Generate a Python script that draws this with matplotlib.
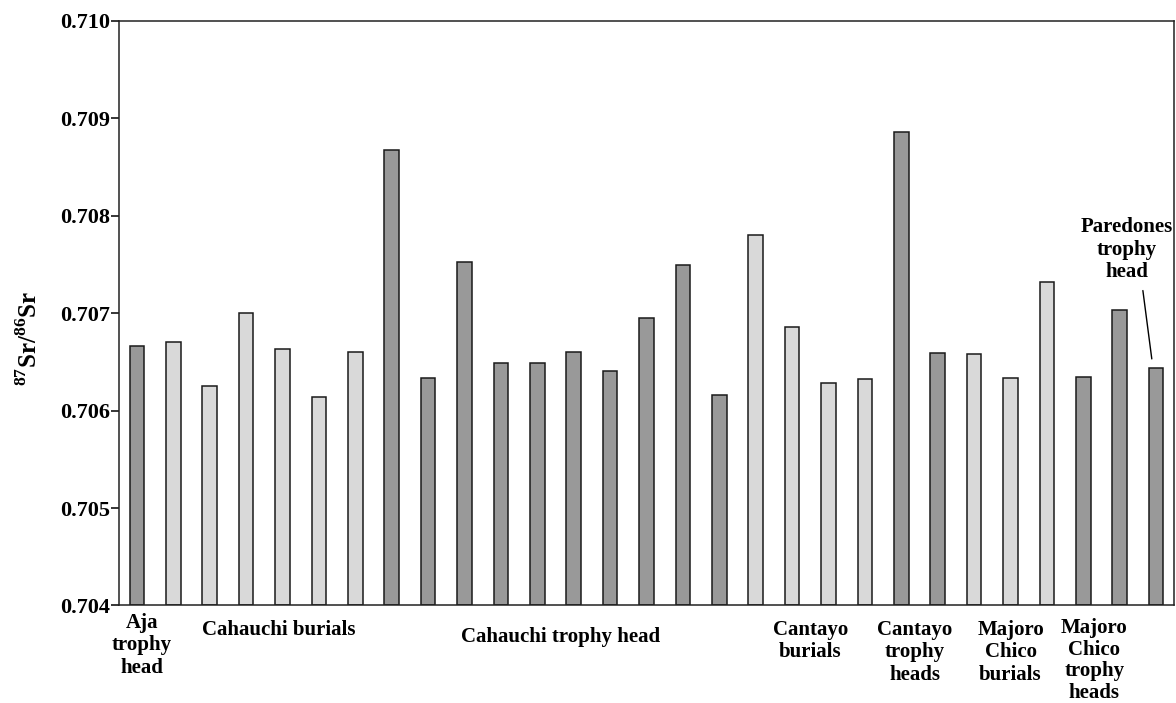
import matplotlib
matplotlib.use("Agg")
import matplotlib.pyplot as plt
from matplotlib.ticker import FormatStrFormatter

plt.rcParams['font.family'] = ['Liberation Serif', 'DejaVu Serif']
plt.rcParams['font.weight'] = 'bold'
plt.rcParams['mathtext.fontset'] = 'custom'
plt.rcParams['mathtext.rm'] = 'Liberation Serif:bold'
plt.rcParams['mathtext.bf'] = 'Liberation Serif:bold'

# 87Sr/86Sr ratio of each sample, left to right
sr_ratio = [0.70666, 0.70670, 0.70625, 0.70700, 0.70663, 0.70614, 0.70660,
            0.70867, 0.70633, 0.70752, 0.70649, 0.70649, 0.70660, 0.70641,
            0.70695, 0.70749, 0.70616, 0.70780, 0.70686, 0.70628, 0.70632,
            0.70886, 0.70659, 0.70658, 0.70633, 0.70732, 0.70634, 0.70703,
            0.70644]
# 'd' = trophy heads (dark), 'l' = burials (light)
kind = ['d', 'l', 'l', 'l', 'l', 'l', 'l',
        'd', 'd', 'd', 'd', 'd', 'd', 'd', 'd', 'd', 'd',
        'l', 'l', 'l', 'l',
        'd', 'd',
        'l', 'l', 'l',
        'd', 'd', 'd']

groups = ["Aja\ntrophy\nhead", "Cahauchi burials", "Cahauchi trophy head",
          "Cantayo\nburials", "Cantayo\ntrophy\nheads", "Majoro\nChico\nburials",
          "Majoro\nChico\ntrophy\nheads"]
group_x = [0.13, 3.9, 11.63, 18.5, 21.37, 24.0, 26.3]
group_top = [-0.012, -0.024, -0.036, -0.024, -0.024, -0.024, -0.021]

colors = {'d': '#999999', 'l': '#d9d9d9'}

fig = plt.figure(figsize=(11.76, 7.03), dpi=100)
ax = fig.add_axes([0.1012, 0.1387, 0.8971, 0.8319])

x = list(range(len(sr_ratio)))
bottom = 0.704
ax.bar(x, [v - bottom for v in sr_ratio], bottom=bottom, width=0.4,
       color=[colors[k] for k in kind], edgecolor='#1a1a1a', linewidth=1.1,
       zorder=2)

ax.set_xlim(-0.49, 28.49)
ax.set_ylim(0.704, 0.710)
ax.set_yticks([0.704, 0.705, 0.706, 0.707, 0.708, 0.709, 0.710])
ax.yaxis.set_major_formatter(FormatStrFormatter('%.3f'))
ax.set_xticks([])
ax.tick_params(axis='y', direction='out', length=5.5, width=1.1, pad=1.0,
               labelsize=16)
for lab in ax.get_yticklabels():
    lab.set_fontweight('bold')
for s in ax.spines.values():
    s.set_linewidth(1.1)
    s.set_color('#222222')

ax.set_ylabel(r'$^{87}$Sr/$^{86}$Sr', fontsize=18, fontweight='bold')
ax.yaxis.set_label_coords(-0.073, 0.457)

trans = ax.get_xaxis_transform()
for name, gx, gy in zip(groups, group_x, group_top):
    ls = 1.12 if name.count("\n") == 3 else 1.17
    ax.text(gx, gy, name, transform=trans, ha='center', va='top',
            fontsize=15, fontweight='bold', linespacing=ls)

ax.annotate("Paredones\ntrophy\nhead", xy=(27.88, 0.70653),
            xytext=(27.2, 0.70765), ha='center', va='center',
            fontsize=15, fontweight='bold', linespacing=1.17,
            arrowprops=dict(arrowstyle='-', color='black', lw=1.0,
                            relpos=(0.66, 0.0), shrinkA=4, shrinkB=0))

fig.savefig("out.png", dpi=100)
